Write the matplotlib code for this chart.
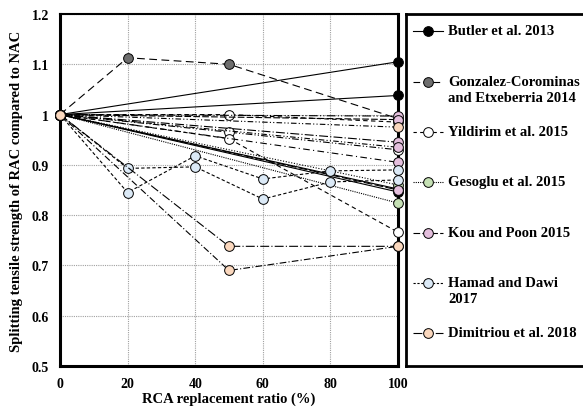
import numpy as np
import matplotlib
matplotlib.use('Agg')
import matplotlib.pyplot as plt
from matplotlib.ticker import FuncFormatter

plt.rcParams['font.family'] = ['Liberation Serif', 'DejaVu Serif']
plt.rcParams['font.weight'] = 'bold'

# Data (x = RCA replacement %, y = relative strength)
butler_x = [[0, 100], [0, 100], [0, 100], [0, 100]]
butler_y = [[1, 1.105], [1, 1.038], [1, 0.852], [1, 0.846]]

gonzalez_x = [[0, 20, 50, 100]]
gonzalez_y = [[1, 1.113, 1.100, 0.992]]

yildirim_x = [[0, 50, 100], [0, 50, 100], [0, 50, 100]]
yildirim_y = [[1, 1.000, 0.985], [1, 0.965, 0.930], [1, 0.952, 0.766]]

gesoglu_x = [[0, 100], [0, 100]]
gesoglu_y = [[1, 0.824], [1, 0.860]]

kou_x = [[0, 100]] * 6
kou_y = [[1, 0.997], [1, 0.990], [1, 0.945], [1, 0.935], [1, 0.905], [1, 0.850]]

hamad_x = [[0, 20, 40, 60, 80, 100], [0, 20, 40, 60, 80, 100]]
hamad_y = [[1, 0.893, 0.896, 0.832, 0.866, 0.870],
           [1, 0.845, 0.918, 0.872, 0.888, 0.890]]

dimitriou_x = [[0, 50, 100], [0, 50, 100], [0, 100]]
dimitriou_y = [[1, 0.738, 0.738], [1, 0.690, 0.738], [1, 0.975]]

labels = ['Butler et al. 2013', 'Gonzalez-Corominas\nand Etxeberria 2014',
          'Yildirim et al. 2015', 'Gesoglu et al. 2015', 'Kou and Poon 2015',
          'Hamad and Dawi\n2017', 'Dimitriou et al. 2018']
colors = ['#000000', '#6e6e6e', '#ffffff', '#c5e0b4', '#e4bfdd', '#dbe9f6', '#fad7bd']
legend_styles = ['-', (0, (6, 3)), (0, (3, 3)), (0, (1, 1)), (0, (6, 2)),
                 (0, (2, 1.5)), (0, (8, 2))]

# line styles used for the individual series of each study
series_styles = [
    ['-', '-', '-', '-'],
    [(0, (7, 4))],
    [(0, (4, 3)), (0, (6, 2, 1, 2, 1, 2)), (0, (4, 3))],
    [(0, (1, 1)), (0, (1, 1.5))],
    [(0, (8, 2, 1, 2, 1, 2)), (0, (6, 2)), (0, (8, 2, 1, 2)),
     (0, (5, 2, 1, 2, 1, 2)), (0, (6, 3, 1, 3)), (0, (8, 2))],
    [(0, (3, 2)), (0, (3, 2))],
    [(0, (8, 2, 1, 2)), (0, (6, 2, 1, 2)), (0, (5, 2, 1, 2, 1, 2))],
]

all_x = [butler_x, gonzalez_x, yildirim_x, gesoglu_x, kou_x, hamad_x, dimitriou_x]
all_y = [butler_y, gonzalez_y, yildirim_y, gesoglu_y, kou_y, hamad_y, dimitriou_y]

fig = plt.figure(figsize=(5.83, 4.14), dpi=100)
ax = fig.add_axes([60/583, 1 - 367/414, 338/583, 352/414])

for i in range(len(labels)):
    for j in range(len(all_x[i])):
        ax.plot(all_x[i][j], all_y[i][j], color='black', lw=0.8,
                linestyle=series_styles[i][j], marker='o', markersize=7,
                markerfacecolor=colors[i], markeredgecolor='black',
                markeredgewidth=0.7, clip_on=False, zorder=3 + i)

ax.set_xlim(0, 100)
ax.set_ylim(0.5, 1.2)
ax.set_xticks([0, 20, 40, 60, 80, 100])
ax.set_yticks([0.5, 0.6, 0.7, 0.8, 0.9, 1.0, 1.1, 1.2])
ax.yaxis.set_major_formatter(FuncFormatter(lambda v, p: '%g' % round(v, 2)))
ax.grid(True, color='#a0a0a0', linestyle=(0, (1, 1)), linewidth=0.8)
ax.tick_params(length=0, labelsize=10, pad=8)
for lab in ax.get_xticklabels() + ax.get_yticklabels():
    lab.set_fontweight('bold')
for s in ['left', 'bottom', 'right']:
    ax.spines[s].set_linewidth(2.2)
ax.spines['top'].set_linewidth(1.5)
ax.set_xlabel('RCA replacement ratio (%)', fontsize=10.5, fontweight='bold', labelpad=1)
ax.set_ylabel('Splitting tensile strength of RAC compared to NAC', fontsize=10.5,
              fontweight='bold', labelpad=6)

# legend drawn in its own framed box
lax = fig.add_axes([406/583, 1 - 367/414, 180/583, 352/414])
lax.set_xlim(406, 586)
lax.set_ylim(367, 15)
lax.set_xticks([])
lax.set_yticks([])
for s in lax.spines.values():
    s.set_linewidth(2)
rows = [32, 83, 133, 183, 234, 284, 334]
for i, lab in enumerate(labels):
    lax.plot([413, 443], [rows[i], rows[i]], color='black', lw=0.8,
             linestyle=legend_styles[i])
    lax.plot([428], [rows[i]], marker='o', markersize=7,
             markerfacecolor=colors[i], markeredgecolor='black', markeredgewidth=0.7)
    lax.text(448, rows[i] - 6.5, lab, fontsize=10.5, fontweight='bold',
             va='top', ha='left', linespacing=1.3)

fig.savefig('out.png', dpi=100)
